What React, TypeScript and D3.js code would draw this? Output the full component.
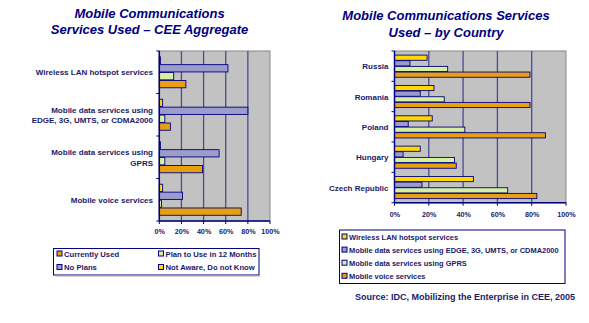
import React from "react";
import * as d3 from "d3";

// ---------- data ----------
const leftCategories = [
  "Wireless LAN hotspot services",
  "Mobile data services using|EDGE, 3G, UMTS, or CDMA2000",
  "Mobile data services using|GPRS",
  "Mobile voice services",
];
const leftNotAware = [1, 3, 1, 3];
const leftNoPlans = [62, 80, 54, 21];
const leftPlanToUse = [13, 5, 5, 2];
const leftCurrentlyUsed = [24, 10, 39, 74];

const countries = ["Russia", "Romania", "Poland", "Hungary", "Czech Republic"];
const wlan = [19, 23, 22, 15, 46];
const edge = [9, 15, 8, 5, 16];
const gprs = [31, 29, 41, 35, 66];
const voice = [79, 79, 88, 36, 83];

const xTicks = [0, 20, 40, 60, 80, 100];

const C = {
  orange: "#E8A010",
  yellow: "#FFD800",
  green: "#D4F0A0",
  blue: "#9C9CCC",
  navy: "#000080",
  text: "#1A1A6A",
  grid: "#4A4A9A",
};

const font = "'Liberation Sans', Arial, sans-serif";

type Series = { name: string; values: number[]; color: string };

function Panel(props: {
  x0: number; x1: number; y0: number; y1: number;
  cats: string[]; series: Series[]; inner: number; labelX: number;
  tickLabelY: number;
}) {
  const { x0, x1, y0, y1, cats, series, inner, labelX, tickLabelY } = props;
  const x = d3.scaleLinear().domain([0, 100]).range([x0, x1]);
  const y = d3.scaleBand<number>().domain(cats.map((_, i) => i)).range([y0, y1]).paddingInner(0).paddingOuter(0);
  const bw = y.bandwidth();
  const sub = d3.scaleBand<number>().domain(series.map((_, i) => i)).range([0, bw * inner]).padding(0.08);
  const off = (bw - bw * inner) / 2;
  return (
    <g>
      <rect x={x0} y={y0} width={x1 - x0} height={y1 - y0} fill="#C2C2C2" stroke="#888" strokeWidth={1} />
      {xTicks.slice(1, -1).map((t) => (
        <line key={t} x1={x(t)} x2={x(t)} y1={y0} y2={y1} stroke={C.grid} strokeWidth={1.3} />
      ))}
      {cats.map((_, ci) =>
        series.map((s, si) => {
          const v = s.values[ci];
          const yy = (y(ci) as number) + off + (sub(si) as number);
          return (
            <rect key={`${ci}-${si}`} x={x0} y={yy} width={Math.max(x(v) - x0, 0.5)} height={sub.bandwidth()}
              fill={s.color} stroke={C.navy} strokeWidth={0.9} />
          );
        })
      )}
      <line x1={x0} x2={x0} y1={y0} y2={y1} stroke={C.navy} strokeWidth={1.5} />
      <line x1={x0} x2={x1} y1={y1} y2={y1} stroke={C.navy} strokeWidth={1.5} />
      {d3.range(cats.length + 1).map((i) => {
        const yy = y0 + i * bw;
        return <line key={i} x1={x0 - 3} x2={x0} y1={yy} y2={yy} stroke={C.navy} strokeWidth={1} />;
      })}
      {xTicks.map((t) => (
        <g key={t}>
          <line x1={x(t)} x2={x(t)} y1={y1} y2={y1 + 3} stroke={C.navy} strokeWidth={1} />
          <text x={x(t) + 0.5} y={tickLabelY} textAnchor="middle" fontSize={7.2} fontWeight="bold" fill={C.text} fontFamily={font}>
            {t}%
          </text>
        </g>
      ))}
      {cats.map((c, ci) => {
        const lines = c.split("|");
        const cy = (y(ci) as number) + bw / 2;
        return lines.map((ln, li) => (
          <text key={`${ci}-${li}`} x={labelX} y={cy + (li - (lines.length - 1) / 2) * 10.5 + 3}
            textAnchor="end" fontSize={8} fontWeight="bold" fill={C.text} fontFamily={font}>
            {ln}
          </text>
        ));
      })}
    </g>
  );
}

function Swatch({ x, y, color }: { x: number; y: number; color: string }) {
  return <rect x={x} y={y - 3} width={5} height={5} fill={color} stroke={C.navy} strokeWidth={1} />;
}

export default function App() {
  const leftSeries: Series[] = [
    { name: "Not Aware, Do not Know", values: leftNotAware, color: C.yellow },
    { name: "No Plans", values: leftNoPlans, color: C.blue },
    { name: "Plan to Use in 12 Months", values: leftPlanToUse, color: C.green },
    { name: "Currently Used", values: leftCurrentlyUsed, color: C.orange },
  ];
  const rightSeries: Series[] = [
    { name: "Wireless LAN hotspot services", values: wlan, color: C.yellow },
    { name: "Mobile data services using EDGE, 3G, UMTS, or CDMA2000", values: edge, color: C.blue },
    { name: "Mobile data services using GPRS", values: gprs, color: C.green },
    { name: "Mobile voice services", values: voice, color: C.orange },
  ];
  const leftLegend = [
    { name: "Currently Used", color: C.orange, x: 57, y: 254 },
    { name: "Plan to Use in 12 Months", color: C.green, x: 158.5, y: 254 },
    { name: "No Plans", color: C.blue, x: 57, y: 267.5 },
    { name: "Not Aware, Do not Know", color: C.yellow, x: 158.5, y: 267.5 },
  ];
  return (
    <svg width={589} height={323} style={{ position: "absolute", left: 0, top: 0, background: "#fff" }}>
      <rect width={589} height={323} fill="#fff" />
      <g fontFamily={font} fontWeight="bold" fontStyle="italic" fontSize={13} fill={C.navy} textAnchor="middle">
        <text x={149.5} y={18}>Mobile Communications</text>
        <text x={149.5} y={34}>Services Used – CEE Aggregate</text>
        <text x={446} y={20}>Mobile Communications Services</text>
        <text x={446} y={36.5}>Used – by Country</text>
      </g>
      <Panel x0={159.3} x1={270} y0={51} y1={221} cats={leftCategories} series={leftSeries} inner={0.76}
        labelX={153} tickLabelY={234} />
      <Panel x0={394.5} x1={566} y0={51} y1={202.7} cats={countries} series={rightSeries} inner={0.76}
        labelX={388.5} tickLabelY={216.5} />
      <rect x={53.5} y={248.5} width={205.5} height={26.5} fill="#fff" stroke={C.navy} strokeWidth={1} />
      <line x1={55} x2={260} y1={276} y2={276} stroke="#aaa" strokeWidth={1} />
      {leftLegend.map((l) => (
        <g key={l.name}>
          <Swatch x={l.x} y={l.y} color={l.color} />
          <text x={l.x + 7} y={l.y + 2.5} fontSize={7.7} fontWeight="bold" fill={C.text} fontFamily={font}>{l.name}</text>
        </g>
      ))}
      <rect x={339.5} y={230} width={225.5} height={53.5} fill="#fff" stroke={C.navy} strokeWidth={1} />
      {rightSeries.map((s, i) => {
        const yy = 237 + i * 13.1;
        return (
          <g key={s.name}>
            <Swatch x={342} y={yy} color={s.color} />
            <text x={349} y={yy + 2.5} fontSize={7.45} fontWeight="bold" fill={C.text} fontFamily={font}>{s.name}</text>
          </g>
        );
      })}
      <text x={575} y={300} textAnchor="end" fontSize={9} fontWeight="bold" fill={C.text} fontFamily={font}>
        Source: IDC, Mobilizing the Enterprise in CEE, 2005
      </text>
    </svg>
  );
}
